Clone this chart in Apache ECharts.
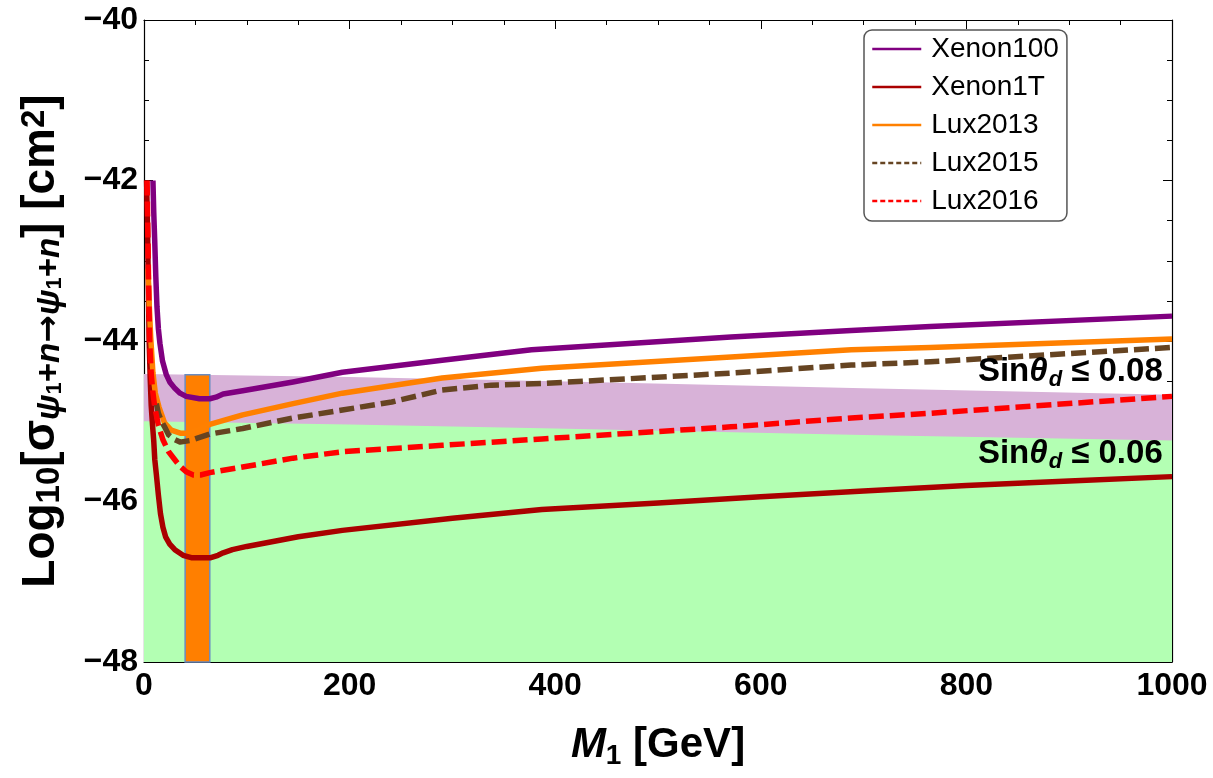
<!DOCTYPE html>
<html>
<head>
<meta charset="utf-8">
<title>Direct detection limits</title>
<script src="https://cdn.jsdelivr.net/npm/echarts@6/dist/echarts.min.js"></script>
<style>
    html, body { margin: 0; padding: 0; background: #fff; }
    #chart { width: 1213px; height: 778px; }
</style>
</head>
<body>
<div id="chart"></div>
<script>
// ---- data (M1 in GeV, log10 of cross section in cm^2) ----
var xenon100Mass = [8.7, 9.5, 10.4, 11.5, 12.6, 14, 15.5, 18, 21.7, 25, 30, 35, 41, 54, 64, 70, 77, 96, 145, 193, 290, 377, 571, 688, 765, 1000];
var xenon100Log  = [-42.0, -42.4, -42.74, -43.2, -43.57, -43.85, -44.03, -44.25, -44.42, -44.51, -44.59, -44.65, -44.69, -44.72, -44.72, -44.70, -44.66, -44.62, -44.51, -44.39, -44.24, -44.11, -43.95, -43.87, -43.82, -43.69];

var xenon1tMass = [2.5, 3.5, 4.2, 5, 6, 7, 8.3, 9.5, 10.5, 12, 14, 16, 18.4, 21, 25, 30, 38, 46, 65, 72, 77, 86, 100, 150, 193, 300, 387, 500, 600, 700, 800, 900, 1000];
var xenon1tLog  = [-42.0, -42.6, -43.3, -44.0, -44.45, -44.8, -45.05, -45.25, -45.48, -45.66, -45.92, -46.15, -46.32, -46.44, -46.53, -46.60, -46.67, -46.70, -46.70, -46.67, -46.64, -46.60, -46.56, -46.44, -46.36, -46.21, -46.10, -46.02, -45.94, -45.87, -45.80, -45.745, -45.69];

var lux2013Mass = [4, 4.6, 5.2, 6.5, 8.7, 11, 14.5, 20, 26.5, 36, 44, 54, 64, 96, 145, 193, 290, 387, 571, 688, 765, 1000];
var lux2013Log  = [-43.1, -43.35, -43.58, -43.95, -44.4, -44.65, -44.82, -45.02, -45.11, -45.15, -45.15, -45.10, -45.04, -44.92, -44.78, -44.65, -44.46, -44.34, -44.20, -44.11, -44.08, -43.975];

var lux2015Mass = [12, 14, 17, 20, 24, 30, 35, 45, 64, 96, 145, 193, 241, 290, 338, 387, 571, 688, 765, 1000];
var lux2015Log  = [-44.78, -44.9, -45.0, -45.07, -45.17, -45.23, -45.26, -45.24, -45.16, -45.09, -44.96, -44.86, -44.76, -44.61, -44.55, -44.53, -44.40, -44.30, -44.26, -44.08];

var lux2016Mass = [3, 3.8, 4.5, 5.5, 7, 8.5, 10.4, 14, 18.4, 24, 30, 35, 41, 48, 55, 64, 96, 145, 193, 290, 387, 571, 688, 765, 1000];
var lux2016Log  = [-42.0, -42.7, -43.3, -44.0, -44.4, -44.62, -44.82, -45.05, -45.23, -45.38, -45.48, -45.56, -45.63, -45.67, -45.67, -45.64, -45.57, -45.46, -45.38, -45.30, -45.22, -45.07, -44.96, -44.90, -44.69];

// allowed regions (upper edge of each band)
var bandMass   = [0, 200, 400, 700, 1000];
var band008Top = [-44.41, -44.45, -44.50, -44.59, -44.67];
var band006Top = [-45.00, -45.04, -45.09, -45.17, -45.24];

// orange mass window
var barRange = [40, 64];
var barTop = -44.42;

// annotation anchors [M1, log sigma] and texts
var noteAt08 = [991, -44.40];
var noteAt06 = [991, -45.42];
var noteText = ['0.08', '0.06'];

var xTicks = { min: 0, max: 1000, interval: 200 };
var yTicks = { min: -48, max: -40, interval: 2 };

var FONT = '"Liberation Sans", Arial, sans-serif';

function pairs(ms, vs) {
    var out = [];
    for (var i = 0; i < ms.length; i++) {
        out.push([ms[i], vs[i]]);
    }
    return out;
}

function curve(name, ms, vs, color, dashed) {
    return {
        name: name,
        type: 'line',
        z: 4,
        data: pairs(ms, vs),
        symbol: 'none',
        showSymbol: false,
        smooth: false,
        silent: true,
        lineStyle: { color: color, width: 5.5, type: dashed ? [15, 6] : 'solid', cap: 'butt', join: 'round' },
        itemStyle: { color: color }
    };
}

function band(name, vs, color) {
    return {
        name: name,
        type: 'line',
        z: 1,
        data: pairs(bandMass, vs),
        symbol: 'none',
        silent: true,
        lineStyle: { width: 0, opacity: 0 },
        areaStyle: { color: color, opacity: 1, origin: 'start' }
    };
}

function minus(v) {
    return String(v).replace('-', '\u2212');
}

function legendItem(name, dashed) {
    return {
        name: name,
        itemStyle: { opacity: 0 },
        lineStyle: { width: 2.5, type: dashed ? [5, 3] : 'solid', opacity: 1 }
    };
}

var chart = echarts.init(document.getElementById('chart'));

var noteRich = {
    a: { fontSize: 33, fontWeight: 'bold', fontFamily: FONT, color: '#000', lineHeight: 36, verticalAlign: 'top' },
    t: { fontSize: 33, fontWeight: 'bold', fontStyle: 'italic', fontFamily: FONT, color: '#000', lineHeight: 36, verticalAlign: 'top' },
    s: { fontSize: 22, fontWeight: 'bold', fontStyle: 'italic', fontFamily: FONT, color: '#000', lineHeight: 22, padding: [15, 0, 0, 1], verticalAlign: 'bottom' }
};

var lux2016 = curve('Lux2016', lux2016Mass, lux2016Log, '#ff0000', true);
lux2016.markPoint = {
    symbol: 'circle',
    symbolSize: 0,
    silent: true,
    label: {
        show: true,
        position: 'left',
        distance: 0,
        rich: noteRich
    },
    data: [
        { coord: noteAt08, label: { formatter: '{a|Sin}{t|\u03b8}{s|d}{a| \u2264 ' + noteText[0] + '}' } },
        { coord: noteAt06, label: { formatter: '{a|Sin}{t|\u03b8}{s|d}{a| \u2264 ' + noteText[1] + '}' } }
    ]
};

var tickStyle = { inside: true, length: 9, lineStyle: { color: '#000', width: 1 } };
var minorStyle = { show: true, splitNumber: 4, length: 5, lineStyle: { color: '#000', width: 1 } };

var option = {
    animation: false,
    backgroundColor: '#fff',
    grid: { left: 141, right: 41, top: 20, bottom: 116 },
    legend: {
        data: [
            legendItem('Xenon100', false),
            legendItem('Xenon1T', false),
            legendItem('Lux2013', false),
            legendItem('Lux2015', true),
            legendItem('Lux2016', true)
        ],
        orient: 'vertical',
        left: 864,
        top: 30,
        padding: [5, 8, 6, 7],
        itemWidth: 49,
        itemHeight: 14,
        itemGap: 10,
        selectedMode: false,
        backgroundColor: '#fff',
        borderColor: '#555',
        borderWidth: 1.5,
        borderRadius: 8,
        textStyle: { fontSize: 28, lineHeight: 28, fontFamily: FONT, color: '#000', padding: [0, 0, 0, 5] }
    },
    xAxis: [{
        type: 'value',
        min: xTicks.min, max: xTicks.max, interval: xTicks.interval,
        position: 'bottom',
        name: '{i|M}{s|1}{m| [GeV]}',
        nameLocation: 'middle',
        nameGap: 62,
        nameTextStyle: {
            rich: {
                i: { fontSize: 42, fontWeight: 'bold', fontStyle: 'italic', fontFamily: FONT, color: '#000', lineHeight: 46, verticalAlign: 'top' },
                s: { fontSize: 28, fontWeight: 'bold', fontFamily: FONT, color: '#000', lineHeight: 28, padding: [24, 0, 0, 0], verticalAlign: 'bottom' },
                m: { fontSize: 42, fontWeight: 'bold', fontFamily: FONT, color: '#000', lineHeight: 46, verticalAlign: 'top' }
            }
        },
        axisLine: { onZero: false, lineStyle: { color: '#000', width: 1.2 } },
        axisTick: tickStyle,
        minorTick: minorStyle,
        splitLine: { show: false },
        axisLabel: {
            fontSize: 32, fontWeight: 'bold', fontFamily: FONT, color: '#000', margin: 8,
            formatter: function (v) { return String(v); }
        }
    }, {
        type: 'value',
        min: xTicks.min, max: xTicks.max, interval: xTicks.interval,
        position: 'top',
        axisLine: { onZero: false, lineStyle: { color: '#000', width: 1.2 } },
        axisTick: tickStyle,
        minorTick: minorStyle,
        splitLine: { show: false },
        axisLabel: { show: false }
    }],
    yAxis: [{
        type: 'value',
        min: yTicks.min, max: yTicks.max, interval: yTicks.interval,
        position: 'left',
        name: '{m|Log}{s|10}{m|[\u03c3}{si|\u03c8}{ss|1}{s|+}{si|n}{a|\u2192}{si|\u03c8}{ss|1}{s|+}{si|n}{m|] [cm}{p|2}{m|]}',
        nameLocation: 'middle',
        nameRotate: 90,
        nameGap: 78,
        nameTextStyle: {
            rich: {
                m: { fontSize: 46, fontWeight: 'bold', fontFamily: FONT, color: '#000', lineHeight: 48, verticalAlign: 'top' },
                s: { fontSize: 33, fontWeight: 'bold', fontFamily: FONT, color: '#000', lineHeight: 33, padding: [22, 0, 0, 0], verticalAlign: 'bottom' },
                a: { fontSize: 33, fontWeight: 'bold', fontFamily: '"DejaVu Sans", sans-serif', color: '#000', lineHeight: 33, padding: [22, 0, 0, 0], verticalAlign: 'bottom' },
                si: { fontSize: 33, fontWeight: 'bold', fontStyle: 'italic', fontFamily: FONT, color: '#000', lineHeight: 33, padding: [22, 0, 0, 0], verticalAlign: 'bottom' },
                ss: { fontSize: 22, fontWeight: 'bold', fontFamily: FONT, color: '#000', lineHeight: 22, padding: [36, 0, 0, 0], verticalAlign: 'bottom' },
                p: { fontSize: 33, fontWeight: 'bold', fontFamily: FONT, color: '#000', lineHeight: 33, verticalAlign: 'top' }
            }
        },
        axisLine: { onZero: false, lineStyle: { color: '#000', width: 1.2 } },
        axisTick: tickStyle,
        minorTick: minorStyle,
        splitLine: { show: false },
        axisLabel: { fontSize: 32, fontWeight: 'bold', fontFamily: FONT, color: '#000', margin: 6, formatter: minus }
    }, {
        type: 'value',
        min: yTicks.min, max: yTicks.max, interval: yTicks.interval,
        position: 'right',
        axisLine: { onZero: false, lineStyle: { color: '#000', width: 1.2 } },
        axisTick: tickStyle,
        minorTick: minorStyle,
        splitLine: { show: false },
        axisLabel: { show: false }
    }],
    series: [
        band('sin008', band008Top, '#d8b2d8'),
        band('sin006', band006Top, '#b3ffb3'),
        {
            name: 'window',
            type: 'custom',
            z: 3,
            silent: true,
            data: [[barRange[0], barRange[1], barTop]],
            encode: { x: [0, 1], y: 2 },
            renderItem: function (params, api) {
                var p0 = api.coord([api.value(0), api.value(2)]);
                var p1 = api.coord([api.value(1), yTicks.min]);
                return {
                    type: 'rect',
                    shape: { x: p0[0], y: p0[1], width: p1[0] - p0[0], height: p1[1] - p0[1] },
                    style: { fill: '#ff7f00', stroke: '#6b8cc0', lineWidth: 1.5 }
                };
            }
        },
        curve('Xenon100', xenon100Mass, xenon100Log, '#800080', false),
        curve('Xenon1T', xenon1tMass, xenon1tLog, '#aa0000', false),
        curve('Lux2013', lux2013Mass, lux2013Log, '#ff8000', false),
        curve('Lux2015', lux2015Mass, lux2015Log, '#664422', true),
        lux2016
    ]
};

chart.setOption(option);
</script>
</body>
</html>
